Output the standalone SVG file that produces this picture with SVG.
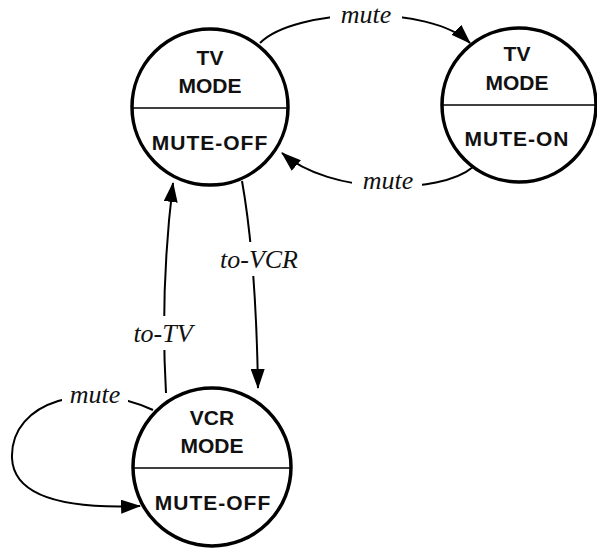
<svg xmlns="http://www.w3.org/2000/svg" width="597" height="548" viewBox="0 0 597 548">
  <defs>
    <marker id="arrow" viewBox="0 0 20 14" refX="19" refY="7" markerWidth="20" markerHeight="14" markerUnits="userSpaceOnUse" orient="auto">
      <path d="M0,0 L20,7 L0,14 Z" fill="#000"/>
    </marker>
    <style>
      .state { fill: #fff; stroke: #000; stroke-width: 3.5; }
      .divider { stroke: #000; stroke-width: 1.6; }
      .name { font-family: "Liberation Sans", Arial, sans-serif; font-weight: bold; font-size: 21px; fill: #111; text-anchor: middle; }
      .sub { letter-spacing: 1px; }
      .edge { fill: none; stroke: #000; stroke-width: 2; marker-end: url(#arrow); }
      .label { font-family: "Liberation Serif", "Times New Roman", serif; font-style: italic; font-size: 26px; fill: #111; text-anchor: middle; }
      .gap { fill: #fff; }
    </style>
  </defs>

  <g id="connectors">
    <!-- mute: TV/MUTE-OFF to TV/MUTE-ON -->
    <path class="edge" d="M260,43 C295,8 430,4 470,43"/>
    <rect class="gap" x="330" y="2" width="72" height="26"/>
    <text class="label" x="366" y="23">mute</text>

    <!-- mute: TV/MUTE-ON back to TV/MUTE-OFF -->
    <path class="edge" d="M473,167 C440,195 330,195 282,153"/>
    <rect class="gap" x="352" y="168" width="70" height="26"/>
    <text class="label" x="388" y="189">mute</text>

    <!-- to-VCR -->
    <path class="edge" d="M242,181 Q256,260 258,388"/>
    <rect class="gap" x="218" y="242" width="84" height="34"/>
    <text class="label" x="259" y="268">to-VCR</text>

    <!-- to-TV -->
    <path class="edge" d="M166,393 Q160,290 173,183"/>
    <rect class="gap" x="128" y="316" width="72" height="34"/>
    <text class="label" x="163" y="342">to-TV</text>

    <!-- mute self-loop on VCR/MUTE-OFF -->
    <path class="edge" d="M153,410 C90,380 10,400 12,458 C14,505 90,508 140,506"/>
    <rect class="gap" x="62" y="384" width="66" height="24"/>
    <text class="label" x="95" y="403">mute</text>
  </g>

  <g id="tv-mute-off">
    <circle class="state" cx="210" cy="107" r="78"/>
    <line class="divider" x1="132" y1="108" x2="288" y2="108"/>
    <text class="name" x="210" y="65">TV</text>
    <text class="name" x="210" y="93">MODE</text>
    <text class="name sub" x="210" y="150">MUTE-OFF</text>
  </g>

  <g id="tv-mute-on">
    <circle class="state" cx="519" cy="105" r="77"/>
    <line class="divider" x1="442" y1="105" x2="596" y2="105"/>
    <text class="name" x="517" y="61">TV</text>
    <text class="name" x="517" y="90">MODE</text>
    <text class="name sub" x="517" y="146">MUTE-ON</text>
  </g>

  <g id="vcr-mute-off">
    <circle class="state" cx="212" cy="467" r="79"/>
    <line class="divider" x1="133" y1="468" x2="291" y2="468"/>
    <text class="name" x="212" y="425">VCR</text>
    <text class="name" x="212" y="453">MODE</text>
    <text class="name sub" x="213" y="510">MUTE-OFF</text>
  </g>
</svg>
